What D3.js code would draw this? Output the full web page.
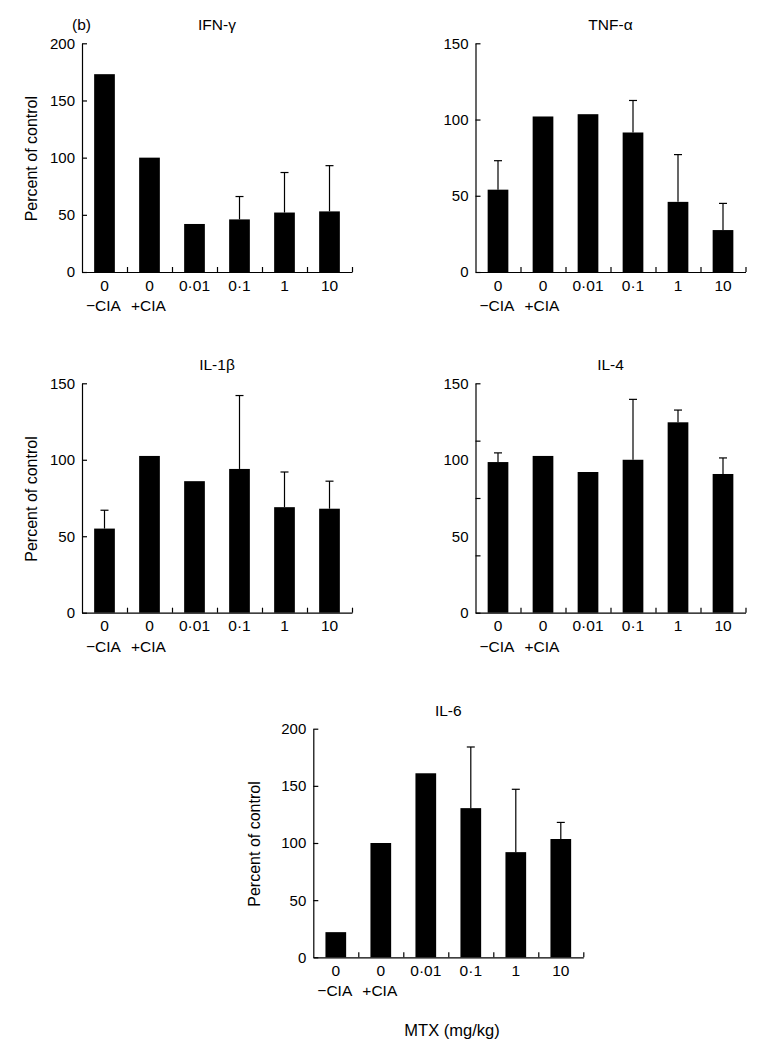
<!DOCTYPE html>
<html>
<head>
<meta charset="utf-8">
<script src="https://cdn.jsdelivr.net/npm/d3@7"></script>
<style>
  html, body { margin: 0; padding: 0; background: #fff; }
  svg { display: block; }
  text { font-family: 'Liberation Sans', Arial, sans-serif; fill: #000; }
</style>
</head>
<body>
<div id="chart"></div>
<script>
// categories (MTX dose, mg/kg) and the CIA sub-labels
const doses = ['0', '0', '0·01', '0·1', '1', '10']
const ciaLabels = ['−CIA', '+CIA', '', '', '', '']

// means (percent of control) and upper error (SD) per cytokine
const ifnMean = [173, 100, 42, 46, 52, 53]
const ifnErr  = [0, 0, 0, 20, 35, 40]
const tnfMean = [54, 102, 103.5, 91.5, 46, 27.5]
const tnfErr  = [19, 0, 0, 21, 31, 17.5]
const il1Mean = [55, 102.5, 86, 94, 69, 68]
const il1Err  = [12, 0, 0, 48, 23, 18]
const il4Mean = [98.5, 102.5, 92, 100, 124.5, 90.7]
const il4Err  = [6, 0, 0, 39.5, 8, 10.5]
const il6Mean = [22, 100, 161, 130.5, 92, 103.5]
const il6Err  = [0, 0, 0, 53.5, 55, 14.5]

// tick labels and tick marks
const ticks200 = [0, 50, 100, 150, 200]
const ticks150 = [0, 50, 100, 150]
const il4Marks = [0, 37.5, 75, 112.5, 150]

const W = 769, H = 1044
const BAND = 45

const panels = [
  { title: 'IFN-γ', mean: ifnMean, err: ifnErr, max: 200, labels: ticks200, marks: ticks200,
    x0: 82, top: 43.3, bottom: 272, ylabel: 45 },
  { title: 'TNF-α', mean: tnfMean, err: tnfErr, max: 150, labels: ticks150, marks: ticks150,
    x0: 475.5, top: 43.3, bottom: 272, ylabel: null },
  { title: 'IL-1β', mean: il1Mean, err: il1Err, max: 150, labels: ticks150, marks: ticks150,
    x0: 82, top: 383.3, bottom: 612.7, ylabel: 45 },
  { title: 'IL-4', mean: il4Mean, err: il4Err, max: 150, labels: ticks150, marks: il4Marks,
    x0: 475.5, top: 383.3, bottom: 612.7, ylabel: null },
  { title: 'IL-6', mean: il6Mean, err: il6Err, max: 200, labels: ticks200, marks: ticks200,
    x0: 313.3, top: 728.7, bottom: 957.3, ylabel: 53 },
]

const svg = d3.select('#chart').append('svg')
  .attr('width', W).attr('height', H)

svg.append('rect').attr('width', W).attr('height', H).attr('fill', '#fff')

svg.append('text')
  .attr('x', 72).attr('y', 30)
  .attr('font-size', '15.5px')
  .text('(b)')

for (const p of panels) {
  const x = d3.scaleBand()
    .domain(d3.range(doses.length))
    .range([p.x0, p.x0 + BAND * doses.length])
    .paddingInner(0.54).paddingOuter(0.27)
  const y = d3.scaleLinear().domain([0, p.max]).range([p.bottom, p.top])

  const g = svg.append('g')

  // bars
  g.selectAll('.bar')
    .data(p.mean)
    .enter().append('rect')
    .attr('x', (d, i) => x(i))
    .attr('width', x.bandwidth())
    .attr('y', d => y(d))
    .attr('height', d => y(0) - y(d))
    .attr('fill', '#000')

  // upper error bars
  const eb = g.selectAll('.err')
    .data(p.mean.map((m, i) => ({ m, e: p.err[i], i })).filter(d => d.e > 0))
    .enter().append('g')
  eb.append('line')
    .attr('x1', d => x(d.i) + x.bandwidth() / 2).attr('x2', d => x(d.i) + x.bandwidth() / 2)
    .attr('y1', d => y(d.m)).attr('y2', d => y(d.m + d.e))
    .attr('stroke', '#000').attr('stroke-width', 1.2)
  eb.append('line')
    .attr('x1', d => x(d.i) + x.bandwidth() / 2 - 4).attr('x2', d => x(d.i) + x.bandwidth() / 2 + 4)
    .attr('y1', d => y(d.m + d.e)).attr('y2', d => y(d.m + d.e))
    .attr('stroke', '#000').attr('stroke-width', 1.2)

  // y axis: inward ticks, labels drawn separately
  const yAxis = g.append('g')
    .attr('transform', `translate(${p.x0},0)`)
    .call(d3.axisRight(y).tickValues(p.marks).tickSize(5).tickSizeOuter(0).tickFormat(''))
  yAxis.select('.domain').attr('stroke-width', 1.2)
  yAxis.selectAll('.tick line').attr('stroke-width', 1.2)

  g.selectAll('.ylab')
    .data(p.labels)
    .enter().append('text')
    .attr('x', p.x0 - 7)
    .attr('y', d => y(d))
    .attr('dy', '0.36em')
    .attr('text-anchor', 'end')
    .attr('font-size', '15px')
    .text(d => d)

  // x axis: baseline with upward ticks at band edges
  const xEdge = d3.scaleLinear().domain([0, doses.length]).range([p.x0, p.x0 + BAND * doses.length])
  const xAxis = g.append('g')
    .attr('transform', `translate(0,${p.bottom})`)
    .call(d3.axisTop(xEdge).tickValues(d3.range(1, doses.length + 1)).tickSize(5).tickSizeOuter(0).tickFormat(''))
  xAxis.select('.domain').attr('stroke-width', 1.2)
  xAxis.selectAll('.tick line').attr('stroke-width', 1.2)

  g.selectAll('.xlab')
    .data(doses)
    .enter().append('text')
    .attr('x', (d, i) => x(i) + x.bandwidth() / 2)
    .attr('y', p.bottom + 18.5)
    .attr('text-anchor', 'middle')
    .attr('font-size', '15.5px')
    .text(d => d)

  g.selectAll('.cia')
    .data(ciaLabels)
    .enter().append('text')
    .attr('x', (d, i) => x(i) + x.bandwidth() / 2 - 1)
    .attr('y', p.bottom + 39)
    .attr('text-anchor', 'middle')
    .attr('font-size', '15.5px')
    .text(d => d)

  g.append('text')
    .attr('x', p.x0 + BAND * 3)
    .attr('y', p.top - 13)
    .attr('text-anchor', 'middle')
    .attr('font-size', '15.5px')
    .text(p.title)

  if (p.ylabel !== null) {
    const cx = p.x0 - p.ylabel
    const cy = (p.top + p.bottom) / 2 + 1
    g.append('text')
      .attr('transform', `translate(${cx},${cy}) rotate(-90)`)
      .attr('text-anchor', 'middle')
      .attr('font-size', '16px')
      .text('Percent of control')
  }
}

svg.append('text')
  .attr('x', 452).attr('y', 1036)
  .attr('text-anchor', 'middle')
  .attr('font-size', '16.5px')
  .text('MTX (mg/kg)')
</script>
</body>
</html>
